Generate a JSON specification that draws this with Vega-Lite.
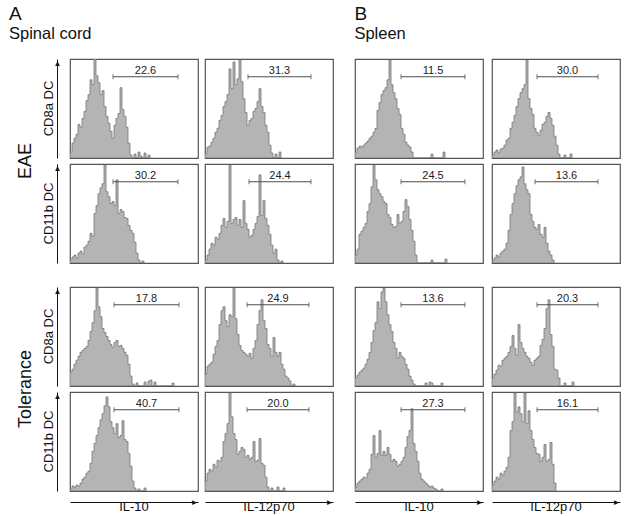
{
"$schema": "https://vega.github.io/schema/vega-lite/v6.json",
"background": "white",
"padding": {"left": 8, "top": 4, "right": 2, "bottom": 2},
"config": {
  "font": "Liberation Sans",
  "view": {"stroke": "#555555", "strokeWidth": 1.2},
  "axis": {"grid": false},
  "header": {"labelColor": "#111111", "titleColor": "#111111"},
  "title": {"color": "#111111"}
},
"datasets": {
"ae": [
{"m":"a","c":"10","x":0,"y":6},{"m":"a","c":"10","x":2,"y":15},{"m":"a","c":"10","x":4,"y":20},{"m":"a","c":"10","x":6,"y":24},{"m":"a","c":"10","x":8,"y":34},{"m":"a","c":"10","x":10,"y":31},{"m":"a","c":"10","x":12,"y":40},{"m":"a","c":"10","x":14,"y":47},{"m":"a","c":"10","x":16,"y":58},{"m":"a","c":"10","x":18,"y":64},{"m":"a","c":"10","x":20,"y":79},{"m":"a","c":"10","x":22,"y":74},{"m":"a","c":"10","x":24,"y":100},{"m":"a","c":"10","x":26,"y":83},{"m":"a","c":"10","x":28,"y":76},{"m":"a","c":"10","x":30,"y":64},{"m":"a","c":"10","x":32,"y":68},{"m":"a","c":"10","x":34,"y":52},{"m":"a","c":"10","x":36,"y":42},{"m":"a","c":"10","x":38,"y":35},{"m":"a","c":"10","x":40,"y":27},{"m":"a","c":"10","x":42,"y":20},{"m":"a","c":"10","x":44,"y":33},{"m":"a","c":"10","x":46,"y":40},{"m":"a","c":"10","x":48,"y":45},{"m":"a","c":"10","x":50,"y":71},{"m":"a","c":"10","x":52,"y":49},{"m":"a","c":"10","x":54,"y":42},{"m":"a","c":"10","x":56,"y":31},{"m":"a","c":"10","x":58,"y":15},{"m":"a","c":"10","x":60,"y":3},{"m":"a","c":"10","x":62,"y":0},{"m":"a","c":"10","x":64,"y":4},{"m":"a","c":"10","x":66,"y":0},{"m":"a","c":"10","x":68,"y":6},{"m":"a","c":"10","x":70,"y":2},{"m":"a","c":"10","x":72,"y":0},{"m":"a","c":"10","x":74,"y":5},{"m":"a","c":"10","x":76,"y":0},{"m":"a","c":"10","x":78,"y":3},{"m":"a","c":"10","x":80,"y":0},
{"m":"a","c":"12","x":0,"y":4},{"m":"a","c":"12","x":2,"y":11},{"m":"a","c":"12","x":4,"y":12},{"m":"a","c":"12","x":6,"y":16},{"m":"a","c":"12","x":8,"y":20},{"m":"a","c":"12","x":10,"y":26},{"m":"a","c":"12","x":12,"y":30},{"m":"a","c":"12","x":14,"y":38},{"m":"a","c":"12","x":16,"y":43},{"m":"a","c":"12","x":18,"y":52},{"m":"a","c":"12","x":20,"y":57},{"m":"a","c":"12","x":22,"y":64},{"m":"a","c":"12","x":24,"y":90},{"m":"a","c":"12","x":26,"y":70},{"m":"a","c":"12","x":28,"y":97},{"m":"a","c":"12","x":30,"y":74},{"m":"a","c":"12","x":32,"y":80},{"m":"a","c":"12","x":34,"y":99},{"m":"a","c":"12","x":36,"y":77},{"m":"a","c":"12","x":38,"y":60},{"m":"a","c":"12","x":40,"y":46},{"m":"a","c":"12","x":42,"y":33},{"m":"a","c":"12","x":44,"y":38},{"m":"a","c":"12","x":46,"y":40},{"m":"a","c":"12","x":48,"y":47},{"m":"a","c":"12","x":50,"y":50},{"m":"a","c":"12","x":52,"y":57},{"m":"a","c":"12","x":54,"y":70},{"m":"a","c":"12","x":56,"y":52},{"m":"a","c":"12","x":58,"y":46},{"m":"a","c":"12","x":60,"y":33},{"m":"a","c":"12","x":62,"y":26},{"m":"a","c":"12","x":64,"y":13},{"m":"a","c":"12","x":66,"y":5},{"m":"a","c":"12","x":68,"y":0},{"m":"a","c":"12","x":70,"y":4},{"m":"a","c":"12","x":72,"y":0},{"m":"a","c":"12","x":74,"y":6},{"m":"a","c":"12","x":76,"y":0},
{"m":"b","c":"10","x":0,"y":3},{"m":"b","c":"10","x":2,"y":6},{"m":"b","c":"10","x":4,"y":8},{"m":"b","c":"10","x":6,"y":5},{"m":"b","c":"10","x":8,"y":10},{"m":"b","c":"10","x":10,"y":12},{"m":"b","c":"10","x":12,"y":9},{"m":"b","c":"10","x":14,"y":16},{"m":"b","c":"10","x":16,"y":18},{"m":"b","c":"10","x":18,"y":22},{"m":"b","c":"10","x":20,"y":30},{"m":"b","c":"10","x":22,"y":27},{"m":"b","c":"10","x":24,"y":50},{"m":"b","c":"10","x":26,"y":58},{"m":"b","c":"10","x":28,"y":70},{"m":"b","c":"10","x":30,"y":76},{"m":"b","c":"10","x":32,"y":80},{"m":"b","c":"10","x":34,"y":99},{"m":"b","c":"10","x":36,"y":72},{"m":"b","c":"10","x":38,"y":67},{"m":"b","c":"10","x":40,"y":60},{"m":"b","c":"10","x":42,"y":62},{"m":"b","c":"10","x":44,"y":58},{"m":"b","c":"10","x":46,"y":84},{"m":"b","c":"10","x":48,"y":50},{"m":"b","c":"10","x":50,"y":54},{"m":"b","c":"10","x":52,"y":52},{"m":"b","c":"10","x":54,"y":46},{"m":"b","c":"10","x":56,"y":45},{"m":"b","c":"10","x":58,"y":38},{"m":"b","c":"10","x":60,"y":33},{"m":"b","c":"10","x":62,"y":30},{"m":"b","c":"10","x":64,"y":21},{"m":"b","c":"10","x":66,"y":10},{"m":"b","c":"10","x":68,"y":3},{"m":"b","c":"10","x":70,"y":0},{"m":"b","c":"10","x":72,"y":2},{"m":"b","c":"10","x":74,"y":0},
{"m":"b","c":"12","x":0,"y":3},{"m":"b","c":"12","x":2,"y":8},{"m":"b","c":"12","x":4,"y":14},{"m":"b","c":"12","x":6,"y":20},{"m":"b","c":"12","x":8,"y":18},{"m":"b","c":"12","x":10,"y":26},{"m":"b","c":"12","x":12,"y":24},{"m":"b","c":"12","x":14,"y":30},{"m":"b","c":"12","x":16,"y":38},{"m":"b","c":"12","x":18,"y":45},{"m":"b","c":"12","x":20,"y":36},{"m":"b","c":"12","x":22,"y":42},{"m":"b","c":"12","x":24,"y":99},{"m":"b","c":"12","x":26,"y":40},{"m":"b","c":"12","x":28,"y":44},{"m":"b","c":"12","x":30,"y":46},{"m":"b","c":"12","x":32,"y":38},{"m":"b","c":"12","x":34,"y":44},{"m":"b","c":"12","x":36,"y":36},{"m":"b","c":"12","x":38,"y":63},{"m":"b","c":"12","x":40,"y":40},{"m":"b","c":"12","x":42,"y":34},{"m":"b","c":"12","x":44,"y":26},{"m":"b","c":"12","x":46,"y":28},{"m":"b","c":"12","x":48,"y":34},{"m":"b","c":"12","x":50,"y":40},{"m":"b","c":"12","x":52,"y":47},{"m":"b","c":"12","x":54,"y":89},{"m":"b","c":"12","x":56,"y":48},{"m":"b","c":"12","x":58,"y":63},{"m":"b","c":"12","x":60,"y":45},{"m":"b","c":"12","x":62,"y":38},{"m":"b","c":"12","x":64,"y":29},{"m":"b","c":"12","x":66,"y":18},{"m":"b","c":"12","x":68,"y":10},{"m":"b","c":"12","x":70,"y":14},{"m":"b","c":"12","x":72,"y":3},{"m":"b","c":"12","x":74,"y":0},{"m":"b","c":"12","x":76,"y":2},{"m":"b","c":"12","x":78,"y":0},
{"m":"a","c":"10","k":"g","x":43,"xe":108,"y":82},{"m":"a","c":"10","k":"t","x":43,"y":82},{"m":"a","c":"10","k":"t","x":108,"y":82},{"m":"a","c":"10","k":"l","x":75.5,"y":82,"lab":"22.6"},
{"m":"a","c":"12","k":"g","x":43,"xe":106,"y":82},{"m":"a","c":"12","k":"t","x":43,"y":82},{"m":"a","c":"12","k":"t","x":106,"y":82},{"m":"a","c":"12","k":"l","x":74.5,"y":82,"lab":"31.3"},
{"m":"b","c":"10","k":"g","x":43,"xe":108,"y":82},{"m":"b","c":"10","k":"t","x":43,"y":82},{"m":"b","c":"10","k":"t","x":108,"y":82},{"m":"b","c":"10","k":"l","x":75.5,"y":82,"lab":"30.2"},
{"m":"b","c":"12","k":"g","x":44,"xe":106,"y":82},{"m":"b","c":"12","k":"t","x":44,"y":82},{"m":"b","c":"12","k":"t","x":106,"y":82},{"m":"b","c":"12","k":"l","x":75,"y":82,"lab":"24.4"}
],
"at": [
{"m":"a","c":"10","x":0,"y":14},{"m":"a","c":"10","x":2,"y":17},{"m":"a","c":"10","x":4,"y":22},{"m":"a","c":"10","x":6,"y":26},{"m":"a","c":"10","x":8,"y":30},{"m":"a","c":"10","x":10,"y":34},{"m":"a","c":"10","x":12,"y":36},{"m":"a","c":"10","x":14,"y":38},{"m":"a","c":"10","x":16,"y":40},{"m":"a","c":"10","x":18,"y":46},{"m":"a","c":"10","x":20,"y":55},{"m":"a","c":"10","x":22,"y":64},{"m":"a","c":"10","x":24,"y":76},{"m":"a","c":"10","x":26,"y":99},{"m":"a","c":"10","x":28,"y":80},{"m":"a","c":"10","x":30,"y":70},{"m":"a","c":"10","x":32,"y":58},{"m":"a","c":"10","x":34,"y":54},{"m":"a","c":"10","x":36,"y":50},{"m":"a","c":"10","x":38,"y":46},{"m":"a","c":"10","x":40,"y":42},{"m":"a","c":"10","x":42,"y":39},{"m":"a","c":"10","x":44,"y":44},{"m":"a","c":"10","x":46,"y":46},{"m":"a","c":"10","x":48,"y":40},{"m":"a","c":"10","x":50,"y":41},{"m":"a","c":"10","x":52,"y":38},{"m":"a","c":"10","x":54,"y":34},{"m":"a","c":"10","x":56,"y":31},{"m":"a","c":"10","x":58,"y":22},{"m":"a","c":"10","x":60,"y":10},{"m":"a","c":"10","x":62,"y":2},{"m":"a","c":"10","x":64,"y":0},{"m":"a","c":"10","x":66,"y":3},{"m":"a","c":"10","x":68,"y":0},{"m":"a","c":"10","x":74,"y":4},{"m":"a","c":"10","x":76,"y":0},{"m":"a","c":"10","x":78,"y":5},{"m":"a","c":"10","x":80,"y":6},{"m":"a","c":"10","x":82,"y":0},{"m":"a","c":"10","x":84,"y":4},{"m":"a","c":"10","x":86,"y":0},{"m":"a","c":"10","x":102,"y":3},{"m":"a","c":"10","x":104,"y":0},
{"m":"a","c":"12","x":0,"y":12},{"m":"a","c":"12","x":2,"y":20},{"m":"a","c":"12","x":4,"y":22},{"m":"a","c":"12","x":6,"y":24},{"m":"a","c":"12","x":8,"y":32},{"m":"a","c":"12","x":10,"y":40},{"m":"a","c":"12","x":12,"y":46},{"m":"a","c":"12","x":14,"y":62},{"m":"a","c":"12","x":16,"y":76},{"m":"a","c":"12","x":18,"y":80},{"m":"a","c":"12","x":20,"y":66},{"m":"a","c":"12","x":22,"y":60},{"m":"a","c":"12","x":24,"y":72},{"m":"a","c":"12","x":26,"y":70},{"m":"a","c":"12","x":28,"y":99},{"m":"a","c":"12","x":30,"y":68},{"m":"a","c":"12","x":32,"y":52},{"m":"a","c":"12","x":34,"y":41},{"m":"a","c":"12","x":36,"y":36},{"m":"a","c":"12","x":38,"y":34},{"m":"a","c":"12","x":40,"y":32},{"m":"a","c":"12","x":42,"y":30},{"m":"a","c":"12","x":44,"y":33},{"m":"a","c":"12","x":46,"y":28},{"m":"a","c":"12","x":48,"y":38},{"m":"a","c":"12","x":50,"y":46},{"m":"a","c":"12","x":52,"y":62},{"m":"a","c":"12","x":54,"y":76},{"m":"a","c":"12","x":56,"y":87},{"m":"a","c":"12","x":58,"y":66},{"m":"a","c":"12","x":60,"y":58},{"m":"a","c":"12","x":62,"y":42},{"m":"a","c":"12","x":64,"y":38},{"m":"a","c":"12","x":66,"y":30},{"m":"a","c":"12","x":68,"y":49},{"m":"a","c":"12","x":70,"y":34},{"m":"a","c":"12","x":72,"y":30},{"m":"a","c":"12","x":74,"y":34},{"m":"a","c":"12","x":76,"y":22},{"m":"a","c":"12","x":78,"y":17},{"m":"a","c":"12","x":80,"y":10},{"m":"a","c":"12","x":82,"y":8},{"m":"a","c":"12","x":84,"y":5},{"m":"a","c":"12","x":86,"y":0},{"m":"a","c":"12","x":88,"y":2},{"m":"a","c":"12","x":90,"y":0},
{"m":"b","c":"10","x":0,"y":2},{"m":"b","c":"10","x":2,"y":5},{"m":"b","c":"10","x":4,"y":4},{"m":"b","c":"10","x":6,"y":6},{"m":"b","c":"10","x":8,"y":5},{"m":"b","c":"10","x":10,"y":8},{"m":"b","c":"10","x":12,"y":12},{"m":"b","c":"10","x":14,"y":14},{"m":"b","c":"10","x":16,"y":18},{"m":"b","c":"10","x":18,"y":20},{"m":"b","c":"10","x":20,"y":28},{"m":"b","c":"10","x":22,"y":40},{"m":"b","c":"10","x":24,"y":48},{"m":"b","c":"10","x":26,"y":56},{"m":"b","c":"10","x":28,"y":64},{"m":"b","c":"10","x":30,"y":72},{"m":"b","c":"10","x":32,"y":78},{"m":"b","c":"10","x":34,"y":86},{"m":"b","c":"10","x":36,"y":95},{"m":"b","c":"10","x":38,"y":85},{"m":"b","c":"10","x":40,"y":70},{"m":"b","c":"10","x":42,"y":64},{"m":"b","c":"10","x":44,"y":58},{"m":"b","c":"10","x":46,"y":68},{"m":"b","c":"10","x":48,"y":54},{"m":"b","c":"10","x":50,"y":56},{"m":"b","c":"10","x":52,"y":71},{"m":"b","c":"10","x":54,"y":52},{"m":"b","c":"10","x":56,"y":50},{"m":"b","c":"10","x":58,"y":38},{"m":"b","c":"10","x":60,"y":25},{"m":"b","c":"10","x":62,"y":10},{"m":"b","c":"10","x":64,"y":3},{"m":"b","c":"10","x":66,"y":0},{"m":"b","c":"10","x":68,"y":2},{"m":"b","c":"10","x":70,"y":0},{"m":"b","c":"10","x":74,"y":3},{"m":"b","c":"10","x":76,"y":0},
{"m":"b","c":"12","x":0,"y":10},{"m":"b","c":"12","x":2,"y":18},{"m":"b","c":"12","x":4,"y":22},{"m":"b","c":"12","x":6,"y":20},{"m":"b","c":"12","x":8,"y":27},{"m":"b","c":"12","x":10,"y":24},{"m":"b","c":"12","x":12,"y":31},{"m":"b","c":"12","x":14,"y":30},{"m":"b","c":"12","x":16,"y":34},{"m":"b","c":"12","x":18,"y":50},{"m":"b","c":"12","x":20,"y":58},{"m":"b","c":"12","x":22,"y":68},{"m":"b","c":"12","x":24,"y":99},{"m":"b","c":"12","x":26,"y":75},{"m":"b","c":"12","x":28,"y":58},{"m":"b","c":"12","x":30,"y":52},{"m":"b","c":"12","x":32,"y":37},{"m":"b","c":"12","x":34,"y":40},{"m":"b","c":"12","x":36,"y":44},{"m":"b","c":"12","x":38,"y":42},{"m":"b","c":"12","x":40,"y":34},{"m":"b","c":"12","x":42,"y":36},{"m":"b","c":"12","x":44,"y":32},{"m":"b","c":"12","x":46,"y":34},{"m":"b","c":"12","x":48,"y":50},{"m":"b","c":"12","x":50,"y":30},{"m":"b","c":"12","x":52,"y":31},{"m":"b","c":"12","x":54,"y":53},{"m":"b","c":"12","x":56,"y":28},{"m":"b","c":"12","x":58,"y":26},{"m":"b","c":"12","x":60,"y":14},{"m":"b","c":"12","x":62,"y":4},{"m":"b","c":"12","x":64,"y":0},{"m":"b","c":"12","x":66,"y":3},{"m":"b","c":"12","x":68,"y":0},{"m":"b","c":"12","x":72,"y":4},{"m":"b","c":"12","x":74,"y":0},{"m":"b","c":"12","x":78,"y":3},{"m":"b","c":"12","x":80,"y":0},
{"m":"a","c":"10","k":"g","x":44,"xe":109,"y":82},{"m":"a","c":"10","k":"t","x":44,"y":82},{"m":"a","c":"10","k":"t","x":109,"y":82},{"m":"a","c":"10","k":"l","x":76.5,"y":82,"lab":"17.8"},
{"m":"a","c":"12","k":"g","x":42,"xe":104,"y":82},{"m":"a","c":"12","k":"t","x":42,"y":82},{"m":"a","c":"12","k":"t","x":104,"y":82},{"m":"a","c":"12","k":"l","x":73,"y":82,"lab":"24.9"},
{"m":"b","c":"10","k":"g","x":44,"xe":109,"y":82},{"m":"b","c":"10","k":"t","x":44,"y":82},{"m":"b","c":"10","k":"t","x":109,"y":82},{"m":"b","c":"10","k":"l","x":76.5,"y":82,"lab":"40.7"},
{"m":"b","c":"12","k":"g","x":42,"xe":104,"y":82},{"m":"b","c":"12","k":"t","x":42,"y":82},{"m":"b","c":"12","k":"t","x":104,"y":82},{"m":"b","c":"12","k":"l","x":73,"y":82,"lab":"20.0"}
],
"be": [
{"m":"a","c":"10","x":0,"y":6},{"m":"a","c":"10","x":2,"y":10},{"m":"a","c":"10","x":4,"y":12},{"m":"a","c":"10","x":6,"y":11},{"m":"a","c":"10","x":8,"y":13},{"m":"a","c":"10","x":10,"y":15},{"m":"a","c":"10","x":12,"y":17},{"m":"a","c":"10","x":14,"y":20},{"m":"a","c":"10","x":16,"y":22},{"m":"a","c":"10","x":18,"y":26},{"m":"a","c":"10","x":20,"y":30},{"m":"a","c":"10","x":22,"y":48},{"m":"a","c":"10","x":24,"y":56},{"m":"a","c":"10","x":26,"y":64},{"m":"a","c":"10","x":28,"y":68},{"m":"a","c":"10","x":30,"y":71},{"m":"a","c":"10","x":32,"y":79},{"m":"a","c":"10","x":34,"y":99},{"m":"a","c":"10","x":36,"y":74},{"m":"a","c":"10","x":38,"y":66},{"m":"a","c":"10","x":40,"y":60},{"m":"a","c":"10","x":42,"y":50},{"m":"a","c":"10","x":44,"y":44},{"m":"a","c":"10","x":46,"y":30},{"m":"a","c":"10","x":48,"y":24},{"m":"a","c":"10","x":50,"y":16},{"m":"a","c":"10","x":52,"y":13},{"m":"a","c":"10","x":54,"y":11},{"m":"a","c":"10","x":56,"y":6},{"m":"a","c":"10","x":58,"y":0},{"m":"a","c":"10","x":74,"y":0},{"m":"a","c":"10","x":76,"y":4},{"m":"a","c":"10","x":78,"y":0},{"m":"a","c":"10","x":86,"y":0},{"m":"a","c":"10","x":88,"y":6},{"m":"a","c":"10","x":90,"y":0},
{"m":"a","c":"12","x":0,"y":3},{"m":"a","c":"12","x":2,"y":6},{"m":"a","c":"12","x":4,"y":8},{"m":"a","c":"12","x":6,"y":5},{"m":"a","c":"12","x":8,"y":9},{"m":"a","c":"12","x":10,"y":10},{"m":"a","c":"12","x":12,"y":13},{"m":"a","c":"12","x":14,"y":18},{"m":"a","c":"12","x":16,"y":20},{"m":"a","c":"12","x":18,"y":30},{"m":"a","c":"12","x":20,"y":36},{"m":"a","c":"12","x":22,"y":43},{"m":"a","c":"12","x":24,"y":52},{"m":"a","c":"12","x":26,"y":60},{"m":"a","c":"12","x":28,"y":66},{"m":"a","c":"12","x":30,"y":70},{"m":"a","c":"12","x":32,"y":74},{"m":"a","c":"12","x":34,"y":99},{"m":"a","c":"12","x":36,"y":60},{"m":"a","c":"12","x":38,"y":50},{"m":"a","c":"12","x":40,"y":44},{"m":"a","c":"12","x":42,"y":30},{"m":"a","c":"12","x":44,"y":26},{"m":"a","c":"12","x":46,"y":23},{"m":"a","c":"12","x":48,"y":28},{"m":"a","c":"12","x":50,"y":34},{"m":"a","c":"12","x":52,"y":36},{"m":"a","c":"12","x":54,"y":42},{"m":"a","c":"12","x":56,"y":46},{"m":"a","c":"12","x":58,"y":40},{"m":"a","c":"12","x":60,"y":33},{"m":"a","c":"12","x":62,"y":22},{"m":"a","c":"12","x":64,"y":13},{"m":"a","c":"12","x":66,"y":4},{"m":"a","c":"12","x":68,"y":0},{"m":"a","c":"12","x":72,"y":3},{"m":"a","c":"12","x":74,"y":0},{"m":"a","c":"12","x":78,"y":4},{"m":"a","c":"12","x":80,"y":0},
{"m":"b","c":"10","x":0,"y":8},{"m":"b","c":"10","x":2,"y":14},{"m":"b","c":"10","x":4,"y":29},{"m":"b","c":"10","x":6,"y":32},{"m":"b","c":"10","x":8,"y":36},{"m":"b","c":"10","x":10,"y":40},{"m":"b","c":"10","x":12,"y":52},{"m":"b","c":"10","x":14,"y":60},{"m":"b","c":"10","x":16,"y":77},{"m":"b","c":"10","x":18,"y":99},{"m":"b","c":"10","x":20,"y":84},{"m":"b","c":"10","x":22,"y":74},{"m":"b","c":"10","x":24,"y":70},{"m":"b","c":"10","x":26,"y":67},{"m":"b","c":"10","x":28,"y":62},{"m":"b","c":"10","x":30,"y":60},{"m":"b","c":"10","x":32,"y":49},{"m":"b","c":"10","x":34,"y":46},{"m":"b","c":"10","x":36,"y":39},{"m":"b","c":"10","x":38,"y":36},{"m":"b","c":"10","x":40,"y":37},{"m":"b","c":"10","x":42,"y":49},{"m":"b","c":"10","x":44,"y":40},{"m":"b","c":"10","x":46,"y":42},{"m":"b","c":"10","x":48,"y":52},{"m":"b","c":"10","x":50,"y":64},{"m":"b","c":"10","x":52,"y":57},{"m":"b","c":"10","x":54,"y":44},{"m":"b","c":"10","x":56,"y":33},{"m":"b","c":"10","x":58,"y":22},{"m":"b","c":"10","x":60,"y":8},{"m":"b","c":"10","x":62,"y":0},{"m":"b","c":"10","x":74,"y":0},{"m":"b","c":"10","x":76,"y":3},{"m":"b","c":"10","x":78,"y":0},{"m":"b","c":"10","x":88,"y":0},{"m":"b","c":"10","x":90,"y":4},{"m":"b","c":"10","x":92,"y":0},
{"m":"b","c":"12","x":0,"y":2},{"m":"b","c":"12","x":2,"y":5},{"m":"b","c":"12","x":4,"y":8},{"m":"b","c":"12","x":6,"y":6},{"m":"b","c":"12","x":8,"y":10},{"m":"b","c":"12","x":10,"y":12},{"m":"b","c":"12","x":12,"y":14},{"m":"b","c":"12","x":14,"y":20},{"m":"b","c":"12","x":16,"y":33},{"m":"b","c":"12","x":18,"y":49},{"m":"b","c":"12","x":20,"y":60},{"m":"b","c":"12","x":22,"y":70},{"m":"b","c":"12","x":24,"y":78},{"m":"b","c":"12","x":26,"y":84},{"m":"b","c":"12","x":28,"y":87},{"m":"b","c":"12","x":30,"y":97},{"m":"b","c":"12","x":32,"y":80},{"m":"b","c":"12","x":34,"y":74},{"m":"b","c":"12","x":36,"y":70},{"m":"b","c":"12","x":38,"y":49},{"m":"b","c":"12","x":40,"y":42},{"m":"b","c":"12","x":42,"y":36},{"m":"b","c":"12","x":44,"y":34},{"m":"b","c":"12","x":46,"y":39},{"m":"b","c":"12","x":48,"y":29},{"m":"b","c":"12","x":50,"y":26},{"m":"b","c":"12","x":52,"y":36},{"m":"b","c":"12","x":54,"y":20},{"m":"b","c":"12","x":56,"y":12},{"m":"b","c":"12","x":58,"y":8},{"m":"b","c":"12","x":60,"y":3},{"m":"b","c":"12","x":62,"y":0},
{"m":"a","c":"10","k":"g","x":46,"xe":110,"y":82},{"m":"a","c":"10","k":"t","x":46,"y":82},{"m":"a","c":"10","k":"t","x":110,"y":82},{"m":"a","c":"10","k":"l","x":78,"y":82,"lab":"11.5"},
{"m":"a","c":"12","k":"g","x":45,"xe":106,"y":82},{"m":"a","c":"12","k":"t","x":45,"y":82},{"m":"a","c":"12","k":"t","x":106,"y":82},{"m":"a","c":"12","k":"l","x":75.5,"y":82,"lab":"30.0"},
{"m":"b","c":"10","k":"g","x":46,"xe":110,"y":82},{"m":"b","c":"10","k":"t","x":46,"y":82},{"m":"b","c":"10","k":"t","x":110,"y":82},{"m":"b","c":"10","k":"l","x":78,"y":82,"lab":"24.5"},
{"m":"b","c":"12","k":"g","x":43,"xe":106,"y":82},{"m":"b","c":"12","k":"t","x":43,"y":82},{"m":"b","c":"12","k":"t","x":106,"y":82},{"m":"b","c":"12","k":"l","x":74.5,"y":82,"lab":"13.6"}
],
"bt": [
{"m":"a","c":"10","x":0,"y":8},{"m":"a","c":"10","x":2,"y":11},{"m":"a","c":"10","x":4,"y":14},{"m":"a","c":"10","x":6,"y":16},{"m":"a","c":"10","x":8,"y":18},{"m":"a","c":"10","x":10,"y":22},{"m":"a","c":"10","x":12,"y":27},{"m":"a","c":"10","x":14,"y":34},{"m":"a","c":"10","x":16,"y":44},{"m":"a","c":"10","x":18,"y":56},{"m":"a","c":"10","x":20,"y":64},{"m":"a","c":"10","x":22,"y":85},{"m":"a","c":"10","x":24,"y":78},{"m":"a","c":"10","x":26,"y":95},{"m":"a","c":"10","x":28,"y":99},{"m":"a","c":"10","x":30,"y":85},{"m":"a","c":"10","x":32,"y":72},{"m":"a","c":"10","x":34,"y":62},{"m":"a","c":"10","x":36,"y":55},{"m":"a","c":"10","x":38,"y":44},{"m":"a","c":"10","x":40,"y":38},{"m":"a","c":"10","x":42,"y":28},{"m":"a","c":"10","x":44,"y":34},{"m":"a","c":"10","x":46,"y":30},{"m":"a","c":"10","x":48,"y":28},{"m":"a","c":"10","x":50,"y":22},{"m":"a","c":"10","x":52,"y":17},{"m":"a","c":"10","x":54,"y":10},{"m":"a","c":"10","x":56,"y":6},{"m":"a","c":"10","x":58,"y":2},{"m":"a","c":"10","x":60,"y":0},{"m":"a","c":"10","x":68,"y":0},{"m":"a","c":"10","x":70,"y":3},{"m":"a","c":"10","x":72,"y":0},{"m":"a","c":"10","x":74,"y":4},{"m":"a","c":"10","x":76,"y":3},{"m":"a","c":"10","x":78,"y":0},{"m":"a","c":"10","x":84,"y":0},{"m":"a","c":"10","x":86,"y":3},{"m":"a","c":"10","x":88,"y":0},
{"m":"a","c":"12","x":0,"y":8},{"m":"a","c":"12","x":2,"y":12},{"m":"a","c":"12","x":4,"y":16},{"m":"a","c":"12","x":6,"y":21},{"m":"a","c":"12","x":8,"y":20},{"m":"a","c":"12","x":10,"y":26},{"m":"a","c":"12","x":12,"y":28},{"m":"a","c":"12","x":14,"y":30},{"m":"a","c":"12","x":16,"y":34},{"m":"a","c":"12","x":18,"y":40},{"m":"a","c":"12","x":20,"y":51},{"m":"a","c":"12","x":22,"y":38},{"m":"a","c":"12","x":24,"y":31},{"m":"a","c":"12","x":26,"y":62},{"m":"a","c":"12","x":28,"y":44},{"m":"a","c":"12","x":30,"y":38},{"m":"a","c":"12","x":32,"y":34},{"m":"a","c":"12","x":34,"y":30},{"m":"a","c":"12","x":36,"y":28},{"m":"a","c":"12","x":38,"y":24},{"m":"a","c":"12","x":40,"y":21},{"m":"a","c":"12","x":42,"y":26},{"m":"a","c":"12","x":44,"y":28},{"m":"a","c":"12","x":46,"y":30},{"m":"a","c":"12","x":48,"y":41},{"m":"a","c":"12","x":50,"y":47},{"m":"a","c":"12","x":52,"y":58},{"m":"a","c":"12","x":54,"y":78},{"m":"a","c":"12","x":56,"y":87},{"m":"a","c":"12","x":58,"y":52},{"m":"a","c":"12","x":60,"y":40},{"m":"a","c":"12","x":62,"y":17},{"m":"a","c":"12","x":64,"y":16},{"m":"a","c":"12","x":66,"y":8},{"m":"a","c":"12","x":68,"y":0},{"m":"a","c":"12","x":72,"y":3},{"m":"a","c":"12","x":74,"y":0},{"m":"a","c":"12","x":80,"y":4},{"m":"a","c":"12","x":82,"y":0},
{"m":"b","c":"10","x":0,"y":4},{"m":"b","c":"10","x":2,"y":8},{"m":"b","c":"10","x":4,"y":10},{"m":"b","c":"10","x":6,"y":12},{"m":"b","c":"10","x":8,"y":14},{"m":"b","c":"10","x":10,"y":13},{"m":"b","c":"10","x":12,"y":18},{"m":"b","c":"10","x":14,"y":22},{"m":"b","c":"10","x":16,"y":37},{"m":"b","c":"10","x":18,"y":56},{"m":"b","c":"10","x":20,"y":34},{"m":"b","c":"10","x":22,"y":38},{"m":"b","c":"10","x":24,"y":61},{"m":"b","c":"10","x":26,"y":36},{"m":"b","c":"10","x":28,"y":40},{"m":"b","c":"10","x":30,"y":36},{"m":"b","c":"10","x":32,"y":44},{"m":"b","c":"10","x":34,"y":37},{"m":"b","c":"10","x":36,"y":30},{"m":"b","c":"10","x":38,"y":32},{"m":"b","c":"10","x":40,"y":30},{"m":"b","c":"10","x":42,"y":25},{"m":"b","c":"10","x":44,"y":27},{"m":"b","c":"10","x":46,"y":30},{"m":"b","c":"10","x":48,"y":34},{"m":"b","c":"10","x":50,"y":44},{"m":"b","c":"10","x":52,"y":55},{"m":"b","c":"10","x":54,"y":61},{"m":"b","c":"10","x":56,"y":83},{"m":"b","c":"10","x":58,"y":48},{"m":"b","c":"10","x":60,"y":40},{"m":"b","c":"10","x":62,"y":30},{"m":"b","c":"10","x":64,"y":18},{"m":"b","c":"10","x":66,"y":12},{"m":"b","c":"10","x":68,"y":10},{"m":"b","c":"10","x":70,"y":8},{"m":"b","c":"10","x":72,"y":6},{"m":"b","c":"10","x":74,"y":4},{"m":"b","c":"10","x":76,"y":5},{"m":"b","c":"10","x":78,"y":3},{"m":"b","c":"10","x":80,"y":2},{"m":"b","c":"10","x":82,"y":0},{"m":"b","c":"10","x":86,"y":2},{"m":"b","c":"10","x":88,"y":0},
{"m":"b","c":"12","x":0,"y":6},{"m":"b","c":"12","x":2,"y":10},{"m":"b","c":"12","x":4,"y":14},{"m":"b","c":"12","x":6,"y":12},{"m":"b","c":"12","x":8,"y":18},{"m":"b","c":"12","x":10,"y":16},{"m":"b","c":"12","x":12,"y":20},{"m":"b","c":"12","x":14,"y":24},{"m":"b","c":"12","x":16,"y":34},{"m":"b","c":"12","x":18,"y":61},{"m":"b","c":"12","x":20,"y":70},{"m":"b","c":"12","x":22,"y":99},{"m":"b","c":"12","x":24,"y":80},{"m":"b","c":"12","x":26,"y":85},{"m":"b","c":"12","x":28,"y":78},{"m":"b","c":"12","x":30,"y":70},{"m":"b","c":"12","x":32,"y":99},{"m":"b","c":"12","x":34,"y":68},{"m":"b","c":"12","x":36,"y":81},{"m":"b","c":"12","x":38,"y":61},{"m":"b","c":"12","x":40,"y":52},{"m":"b","c":"12","x":42,"y":44},{"m":"b","c":"12","x":44,"y":38},{"m":"b","c":"12","x":46,"y":37},{"m":"b","c":"12","x":48,"y":30},{"m":"b","c":"12","x":50,"y":34},{"m":"b","c":"12","x":52,"y":47},{"m":"b","c":"12","x":54,"y":30},{"m":"b","c":"12","x":56,"y":32},{"m":"b","c":"12","x":58,"y":49},{"m":"b","c":"12","x":60,"y":27},{"m":"b","c":"12","x":62,"y":8},{"m":"b","c":"12","x":64,"y":0},
{"m":"a","c":"10","k":"g","x":46,"xe":110,"y":82},{"m":"a","c":"10","k":"t","x":46,"y":82},{"m":"a","c":"10","k":"t","x":110,"y":82},{"m":"a","c":"10","k":"l","x":78,"y":82,"lab":"13.6"},
{"m":"a","c":"12","k":"g","x":45,"xe":106,"y":82},{"m":"a","c":"12","k":"t","x":45,"y":82},{"m":"a","c":"12","k":"t","x":106,"y":82},{"m":"a","c":"12","k":"l","x":75.5,"y":82,"lab":"20.3"},
{"m":"b","c":"10","k":"g","x":46,"xe":110,"y":82},{"m":"b","c":"10","k":"t","x":46,"y":82},{"m":"b","c":"10","k":"t","x":110,"y":82},{"m":"b","c":"10","k":"l","x":78,"y":82,"lab":"27.3"},
{"m":"b","c":"12","k":"g","x":45,"xe":106,"y":82},{"m":"b","c":"12","k":"t","x":45,"y":82},{"m":"b","c":"12","k":"t","x":106,"y":82},{"m":"b","c":"12","k":"l","x":75.5,"y":82,"lab":"16.1"}
]
},
"spacing": 20,
"hconcat": [
{
  "title": {"text": "A", "subtitle": "\u00a0\u00a0\u00a0Spinal cord", "anchor": "start", "fontSize": 19, "fontWeight": "normal", "subtitleFontSize": 16.5, "subtitleColor": "#111111", "subtitlePadding": 2, "offset": 16, "dx": -8},
  "spacing": 22,
  "vconcat": [
    {
      "data": {"name": "ae"},
      "spacing": {"row": 4, "column": 5},
      "facet": {
        "row": {"field": "m", "type": "nominal", "title": "EAE", "header": {"labelOrient": "left", "labelAngle": -90, "labelFontSize": 13, "labelPadding": -9, "labelExpr": "datum.value == 'a' ? 'CD8a DC' : 'CD11b DC'", "titleOrient": "left", "titleAngle": -90, "titleFontSize": 18, "titleFontWeight": "normal", "titlePadding": -20}},
        "column": {"field": "c", "type": "nominal", "title": null, "header": {"labels": false}}
      },
      "spec": {
        "width": 128, "height": 99,
        "encoding": {
          "x": {"field": "x", "type": "quantitative", "scale": {"domain": [0, 128], "nice": false, "zero": false}, "axis": null},
          "y": {"field": "y", "type": "quantitative", "scale": {"domain": [0, 100], "nice": false}, "axis": {"offset": 12, "ticks": false, "tickSize": 0, "values": [100], "labelExpr": "'▲'", "labelAngle": 0, "labelAlign": "center", "labelBaseline": "top", "labelPadding": 0, "labelFontSize": 8, "labelColor": "#111111", "labelFlush": false, "domainColor": "#111111", "domainWidth": 1, "title": null, "grid": false}}
        },
        "layer": [
          {"transform": [{"filter": "!isValid(datum.k)"}], "mark": {"type": "area", "interpolate": "step-after", "fill": "#b4b4b4", "stroke": "#767676", "strokeWidth": 0.8, "clip": true}},
          {"transform": [{"filter": "datum.k == 'g'"}], "mark": {"type": "rule", "color": "#4d4d4d", "strokeWidth": 1.1}, "encoding": {"x2": {"field": "xe"}}},
          {"transform": [{"filter": "datum.k == 't'"}], "mark": {"type": "tick", "orient": "vertical", "size": 5, "thickness": 1.1, "color": "#4d4d4d"}},
          {"transform": [{"filter": "datum.k == 'l'"}], "mark": {"type": "text", "baseline": "alphabetic", "dy": -3, "fontSize": 11, "color": "#222222"}, "encoding": {"text": {"field": "lab"}}}
        ]
      }
    },
    {
      "data": {"name": "at"},
      "spacing": {"row": 4, "column": 5},
      "facet": {
        "row": {"field": "m", "type": "nominal", "title": "Tolerance", "header": {"labelOrient": "left", "labelAngle": -90, "labelFontSize": 13, "labelPadding": -9, "labelExpr": "datum.value == 'a' ? 'CD8a DC' : 'CD11b DC'", "titleOrient": "left", "titleAngle": -90, "titleFontSize": 18, "titleFontWeight": "normal", "titlePadding": -20}},
        "column": {"field": "c", "type": "nominal", "title": null, "header": {"labelOrient": "bottom", "labelFontSize": 13, "labelPadding": -5, "labelExpr": "datum.value == '10' ? 'IL-10' : 'IL-12p70'"}}
      },
      "spec": {
        "width": 128, "height": 99,
        "encoding": {
          "x": {"field": "x", "type": "quantitative", "scale": {"domain": [0, 128], "nice": false, "zero": false}, "axis": {"offset": 10, "ticks": false, "tickSize": 0, "values": [128], "labelExpr": "'►'", "labelAlign": "right", "labelBaseline": "middle", "labelPadding": 0, "labelFontSize": 8, "labelColor": "#111111", "labelFlush": false, "domainColor": "#111111", "domainWidth": 1, "title": null, "grid": false}},
          "y": {"field": "y", "type": "quantitative", "scale": {"domain": [0, 100], "nice": false}, "axis": {"offset": 12, "ticks": false, "tickSize": 0, "values": [100], "labelExpr": "'▲'", "labelAngle": 0, "labelAlign": "center", "labelBaseline": "top", "labelPadding": 0, "labelFontSize": 8, "labelColor": "#111111", "labelFlush": false, "domainColor": "#111111", "domainWidth": 1, "title": null, "grid": false}}
        },
        "layer": [
          {"transform": [{"filter": "!isValid(datum.k)"}], "mark": {"type": "area", "interpolate": "step-after", "fill": "#b4b4b4", "stroke": "#767676", "strokeWidth": 0.8, "clip": true}},
          {"transform": [{"filter": "datum.k == 'g'"}], "mark": {"type": "rule", "color": "#4d4d4d", "strokeWidth": 1.1}, "encoding": {"x2": {"field": "xe"}}},
          {"transform": [{"filter": "datum.k == 't'"}], "mark": {"type": "tick", "orient": "vertical", "size": 5, "thickness": 1.1, "color": "#4d4d4d"}},
          {"transform": [{"filter": "datum.k == 'l'"}], "mark": {"type": "text", "baseline": "alphabetic", "dy": -3, "fontSize": 11, "color": "#222222"}, "encoding": {"text": {"field": "lab"}}}
        ]
      }
    }
  ]
},
{
  "title": {"text": "B", "subtitle": "\u00a0Spleen", "anchor": "start", "fontSize": 19, "fontWeight": "normal", "subtitleFontSize": 16.5, "subtitleColor": "#111111", "subtitlePadding": 2, "offset": 16},
  "spacing": 22,
  "vconcat": [
    {
      "data": {"name": "be"},
      "spacing": {"row": 4, "column": 7},
      "facet": {
        "row": {"field": "m", "type": "nominal", "title": null, "header": {"labels": false}},
        "column": {"field": "c", "type": "nominal", "title": null, "header": {"labels": false}}
      },
      "spec": {
        "width": 128, "height": 99,
        "encoding": {
          "x": {"field": "x", "type": "quantitative", "scale": {"domain": [0, 128], "nice": false, "zero": false}, "axis": null},
          "y": {"field": "y", "type": "quantitative", "scale": {"domain": [0, 100], "nice": false}, "axis": null}
        },
        "layer": [
          {"transform": [{"filter": "!isValid(datum.k)"}], "mark": {"type": "area", "interpolate": "step-after", "fill": "#b4b4b4", "stroke": "#767676", "strokeWidth": 0.8, "clip": true}},
          {"transform": [{"filter": "datum.k == 'g'"}], "mark": {"type": "rule", "color": "#4d4d4d", "strokeWidth": 1.1}, "encoding": {"x2": {"field": "xe"}}},
          {"transform": [{"filter": "datum.k == 't'"}], "mark": {"type": "tick", "orient": "vertical", "size": 5, "thickness": 1.1, "color": "#4d4d4d"}},
          {"transform": [{"filter": "datum.k == 'l'"}], "mark": {"type": "text", "baseline": "alphabetic", "dy": -3, "fontSize": 11, "color": "#222222"}, "encoding": {"text": {"field": "lab"}}}
        ]
      }
    },
    {
      "data": {"name": "bt"},
      "spacing": {"row": 4, "column": 7},
      "facet": {
        "row": {"field": "m", "type": "nominal", "title": null, "header": {"labels": false}},
        "column": {"field": "c", "type": "nominal", "title": null, "header": {"labelOrient": "bottom", "labelFontSize": 13, "labelPadding": -5, "labelExpr": "datum.value == '10' ? 'IL-10' : 'IL-12p70'"}}
      },
      "spec": {
        "width": 128, "height": 99,
        "encoding": {
          "x": {"field": "x", "type": "quantitative", "scale": {"domain": [0, 128], "nice": false, "zero": false}, "axis": {"offset": 10, "ticks": false, "tickSize": 0, "values": [128], "labelExpr": "'►'", "labelAlign": "right", "labelBaseline": "middle", "labelPadding": 0, "labelFontSize": 8, "labelColor": "#111111", "labelFlush": false, "domainColor": "#111111", "domainWidth": 1, "title": null, "grid": false}},
          "y": {"field": "y", "type": "quantitative", "scale": {"domain": [0, 100], "nice": false}, "axis": null}
        },
        "layer": [
          {"transform": [{"filter": "!isValid(datum.k)"}], "mark": {"type": "area", "interpolate": "step-after", "fill": "#b4b4b4", "stroke": "#767676", "strokeWidth": 0.8, "clip": true}},
          {"transform": [{"filter": "datum.k == 'g'"}], "mark": {"type": "rule", "color": "#4d4d4d", "strokeWidth": 1.1}, "encoding": {"x2": {"field": "xe"}}},
          {"transform": [{"filter": "datum.k == 't'"}], "mark": {"type": "tick", "orient": "vertical", "size": 5, "thickness": 1.1, "color": "#4d4d4d"}},
          {"transform": [{"filter": "datum.k == 'l'"}], "mark": {"type": "text", "baseline": "alphabetic", "dy": -3, "fontSize": 11, "color": "#222222"}, "encoding": {"text": {"field": "lab"}}}
        ]
      }
    }
  ]
}
]
}
